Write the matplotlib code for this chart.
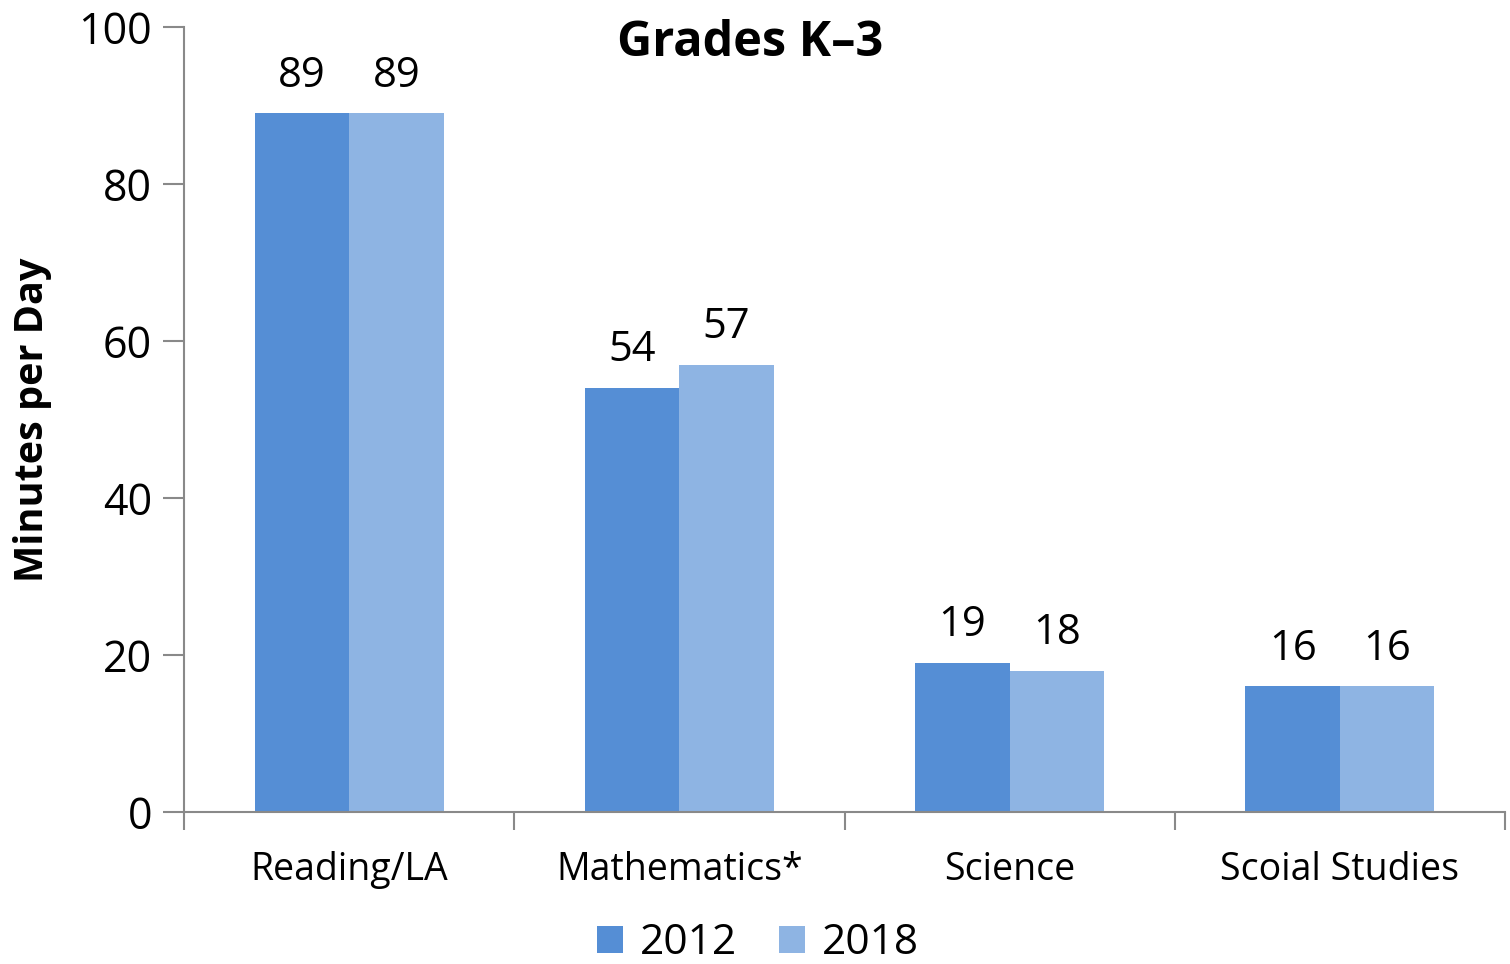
import numpy as np
import matplotlib.pyplot as plt

plt.rcParams['font.family'] = ['Open Sans', 'DejaVu Sans']

categories = ['Reading/LA', 'Mathematics*', 'Science', 'Scoial Studies']
minutes_2012 = [89, 54, 19, 16]
minutes_2018 = [89, 57, 18, 16]
years = ['2012', '2018']
colors = ['#558ED5', '#8EB4E3']

fig = plt.figure(figsize=(15.1, 9.64), dpi=100)
ax = fig.add_axes([0.1219, 0.1577, 0.8748, 0.8143])

x = np.arange(len(categories))
w = 0.286
b1 = ax.bar(x - w / 2, minutes_2012, w, color=colors[0], label=years[0])
b2 = ax.bar(x + w / 2, minutes_2018, w, color=colors[1], label=years[1])
for bars in (b1, b2):
    ax.bar_label(bars, padding=12, fontsize=30)

ax.set_xlim(-0.5, len(categories) - 0.5)
ax.set_ylim(0, 100)
ax.set_yticks(range(0, 101, 20))
ax.tick_params(axis='y', labelsize=31, length=15, width=1.5, color='#898989', pad=8)
ax.set_xticks(x)
ax.set_xticklabels(categories, fontsize=27)
ax.set_xticks(np.arange(len(categories) + 1) - 0.5, minor=True)
ax.tick_params(axis='x', which='major', length=0, pad=28)
ax.tick_params(axis='x', which='minor', length=13, width=1.5, color='#898989')

for s in ('top', 'right'):
    ax.spines[s].set_visible(False)
for s in ('left', 'bottom'):
    ax.spines[s].set_color('#898989')
    ax.spines[s].set_linewidth(1.5)

ax.set_ylabel('Minutes per Day', fontsize=28.5, fontweight='bold')
ax.yaxis.set_label_coords(-0.1, 0.5)
fig.text(0.497, 0.955, 'Grades K\u20133', ha='center', va='center',
         fontsize=35, fontweight='bold')

fig.legend(loc='lower center', ncol=2, frameon=False, fontsize=30.5,
           bbox_to_anchor=(0.502, -0.04), handlelength=0.6, handleheight=0.6,
           handletextpad=0.4, columnspacing=1.0)

fig.savefig('out.png')
